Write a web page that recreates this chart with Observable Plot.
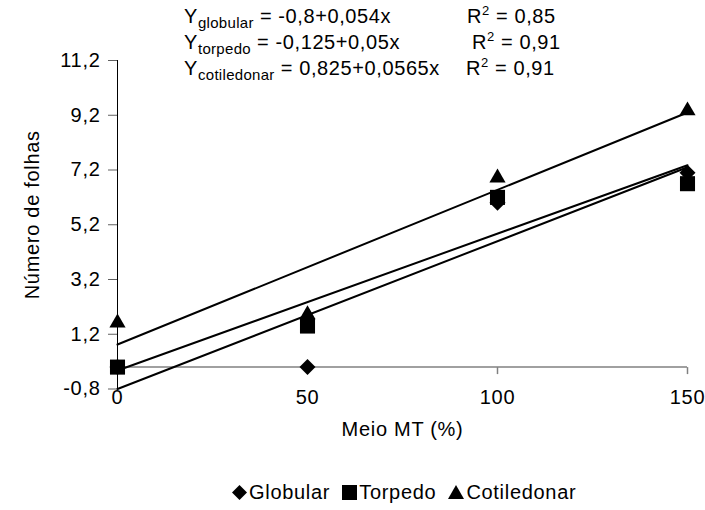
<!DOCTYPE html>
<html><head><meta charset="utf-8">
<script src="https://cdn.jsdelivr.net/npm/d3@7"></script>
<script src="https://cdn.jsdelivr.net/npm/@observablehq/plot@0.6"></script>
<style>
body{margin:0;background:#fff;font-family:"Liberation Sans",Arial,sans-serif;}
#wrap{position:relative;width:705px;height:510px;background:#fff;}
#chart svg{display:block;}
.eq{position:absolute;font-size:20px;line-height:22px;letter-spacing:0.6px;white-space:nowrap;color:#000;}
.eq sub{font-size:15px;line-height:0;vertical-align:-5px;letter-spacing:0.3px;}
.eq sup{font-size:13px;line-height:0;vertical-align:8px;}
#legend{position:absolute;left:232px;top:481px;display:flex;align-items:center;font-size:20px;line-height:22px;letter-spacing:0.7px;color:#000;white-space:nowrap;}
#legend .item{display:flex;align-items:center;margin-right:12px;}
#legend svg{margin-right:2px;display:block;}
</style>
</head><body>
<div id="wrap"><div id="chart"></div></div>
<script>
// ---- data ----
const xValues = [0, 50, 100, 150];
const globular = [0, 0, 6.0, 7.1];
const torpedo = [0, 1.5, 6.2, 6.7];
const cotiledonar = [1.7, 2.0, 7.0, 9.45];
const seriesKeys = ["globular", "torpedo", "cotiledonar"];
const legendNames = ["Globular", "Torpedo", "Cotiledonar"];
const intercepts = [-0.8, -0.125, 0.825];
const slopes = [0.054, 0.05, 0.0565];
const r2 = [0.85, 0.91, 0.91];
const yTicks = [-0.8, 1.2, 3.2, 5.2, 7.2, 9.2, 11.2];
const xTicks = [0, 50, 100, 150];
const xLabel = "Meio MT (%)";
const yLabel = "Número de folhas";

const fmt = v => String(v).replace(".", ",");
const pts = arr => xValues.map((x, i) => ({x, y: arr[i]}));
const trend = seriesKeys.flatMap((s, i) =>
  d3.extent(xTicks).map(x => ({s, x, y: intercepts[i] + slopes[i] * x})));

const tickSym = {draw(ctx) { ctx.moveTo(0, 0); ctx.lineTo(0, 7); }};

const chart = Plot.plot({
  width: 705, height: 470,
  marginLeft: 117, marginRight: 18, marginTop: 60, marginBottom: 81.5,
  x: {domain: d3.extent(xTicks)},
  y: {domain: [yTicks[0], yTicks[yTicks.length - 1]]},
  style: {fontFamily: "'Liberation Sans', Arial, sans-serif", fontSize: "20px", letterSpacing: "0.7px", color: "black", background: "white"},
  marks: [
    Plot.ruleY([0], {stroke: "#808080", strokeWidth: 1.5}),
    Plot.dot(xTicks, {x: d => d, y: 0, symbol: tickSym, r: 1, stroke: "#808080", fill: "none", strokeWidth: 1.5}),
    Plot.ruleX([0], {stroke: "black", strokeWidth: 1}),
    Plot.axisY({ticks: yTicks, tickSize: 9, tickPadding: 8, tickFormat: d => d.toFixed(1).replace(".", ","),
      stroke: "#606060", fill: "black", fontSize: 20, label: null}),
    Plot.axisX({ticks: xTicks, tickSize: 0, tickPadding: 1, tickFormat: d => String(d), fill: "black", fontSize: 20, label: null}),
    Plot.line(trend, {x: "x", y: "y", z: "s", stroke: "black", strokeWidth: 2}),
    Plot.dot(pts(globular), {x: "x", y: "y", symbol: "diamond2", r: 7.2, fill: "black", stroke: "none"}),
    Plot.dot(pts(torpedo), {x: "x", y: "y", symbol: "square", r: 8.5, fill: "black", stroke: "none"}),
    Plot.dot(pts(cotiledonar), {x: "x", y: "y", symbol: "triangle", r: 6, dy: 2.3, fill: "black", stroke: "none"}),
    Plot.text([yLabel], {frameAnchor: "left", textAnchor: "middle", rotate: -90, dx: -85, dy: -10, fontSize: 20, fill: "black"}),
    Plot.text([xLabel], {frameAnchor: "bottom", dy: 47, fontSize: 20, fill: "black"})
  ]
});
document.getElementById("chart").appendChild(chart);

// equations (real text)
const wrap = document.getElementById("wrap");
const eqTops = [5, 31, 57];
const r2Left = [467, 472, 466];
seriesKeys.forEach((s, i) => {
  const e = document.createElement("div");
  e.className = "eq";
  e.style.left = "184px"; e.style.top = eqTops[i] + "px";
  e.innerHTML = `Y<sub>${s}</sub> = ${fmt(intercepts[i])}+${fmt(slopes[i])}x`;
  wrap.appendChild(e);
  const r = document.createElement("div");
  r.className = "eq";
  r.style.left = r2Left[i] + "px"; r.style.top = eqTops[i] + "px";
  r.innerHTML = `R<sup>2</sup> = ${fmt(r2[i])}`;
  wrap.appendChild(r);
});

// legend
const icons = [
  '<svg width="15" height="15"><polygon points="7.5,0 15,7.5 7.5,15 0,7.5" fill="black"/></svg>',
  '<svg width="15" height="15"><rect x="0" y="0" width="15" height="15" fill="black"/></svg>',
  '<svg width="16" height="14"><polygon points="8,0 16,14 0,14" fill="black"/></svg>'
];
const leg = document.createElement("div");
leg.id = "legend";
leg.innerHTML = legendNames.map((n, i) => `<span class="item">${icons[i]}<span>${n}</span></span>`).join("");
wrap.appendChild(leg);
</script>
</body></html>
